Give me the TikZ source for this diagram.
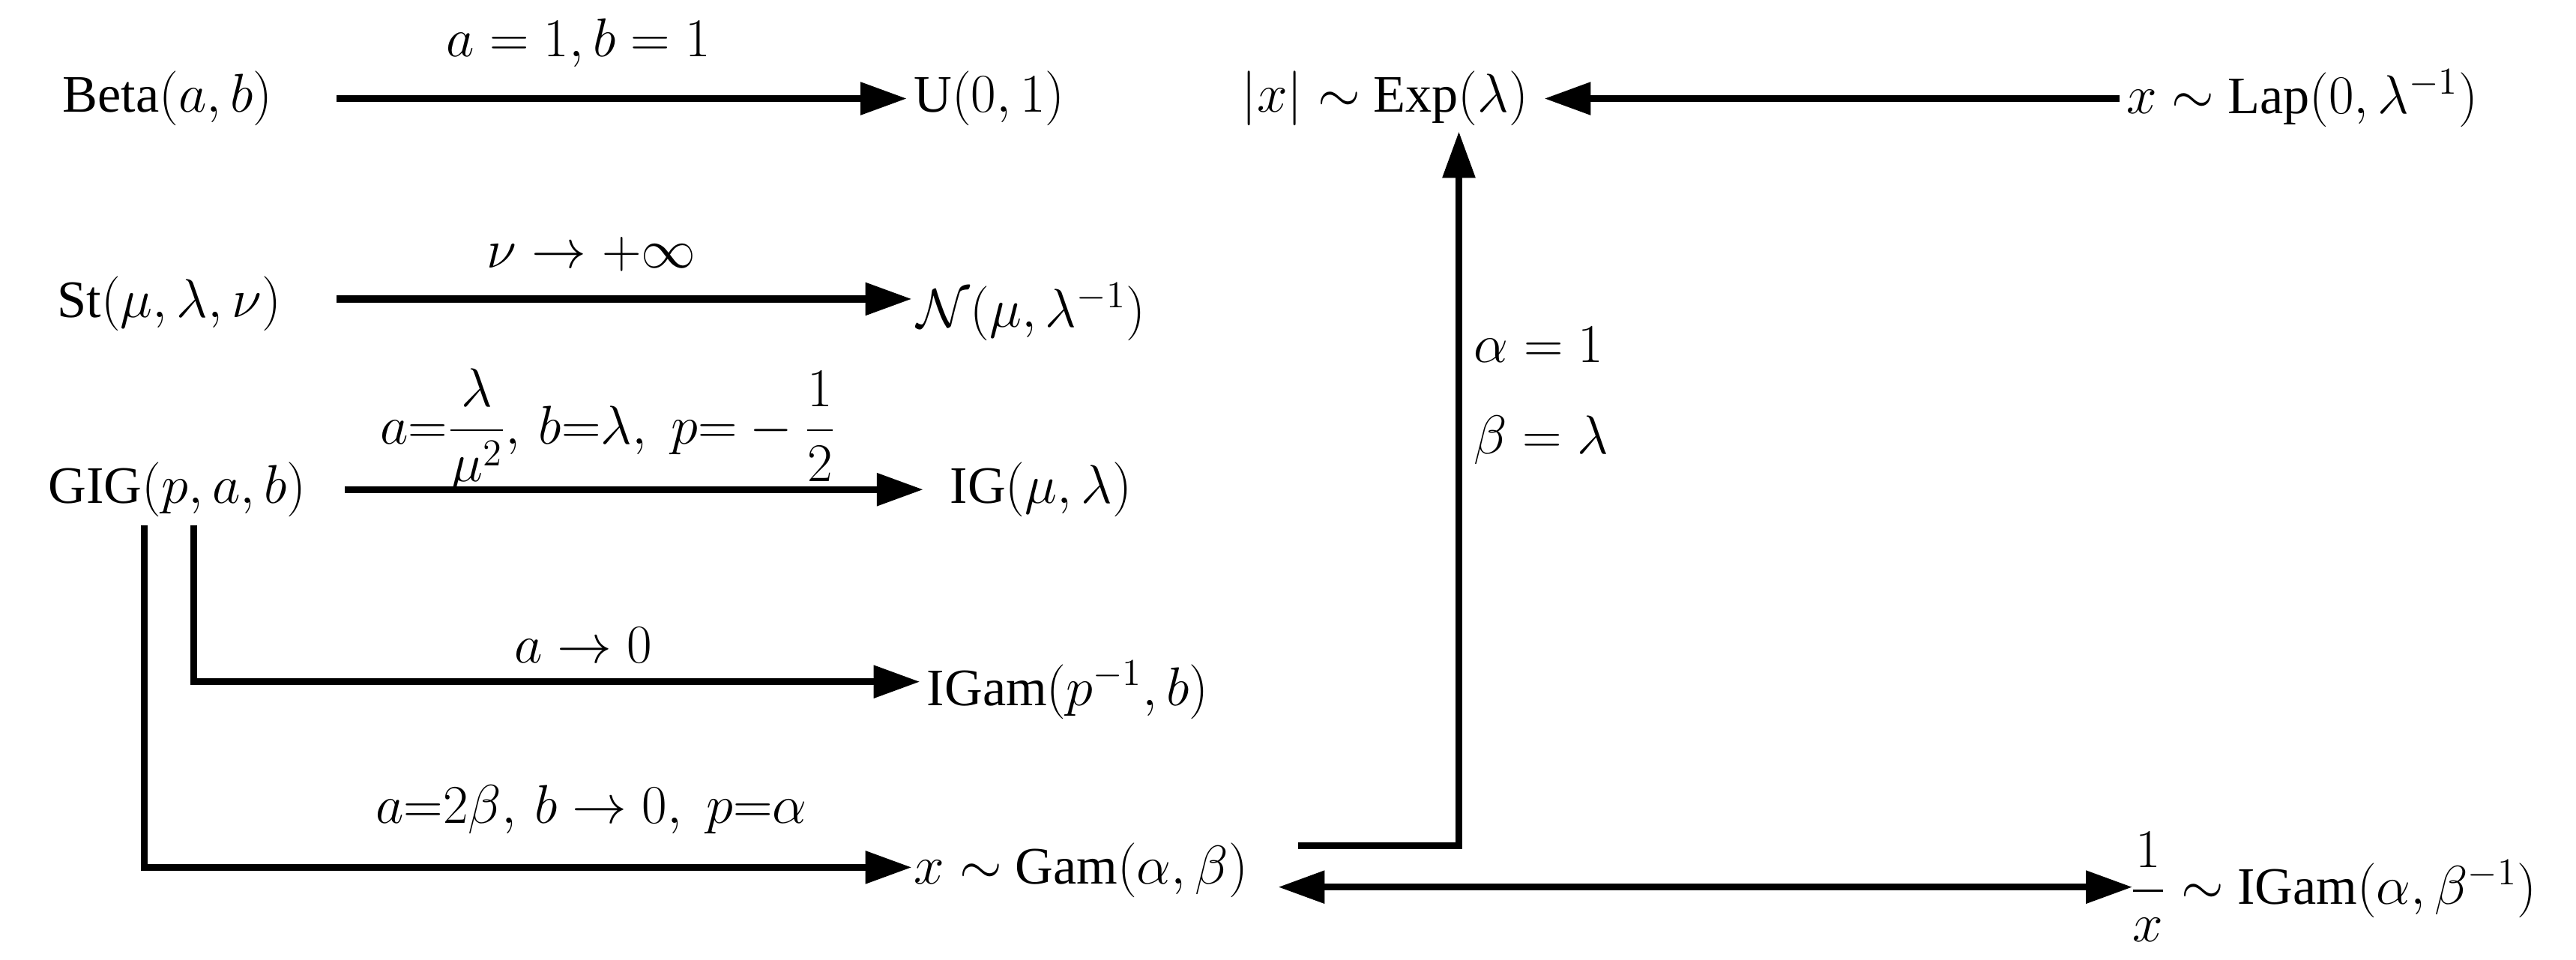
\documentclass[tikz,border=0pt]{standalone}
\usepackage{amsmath}
\usepackage{fontspec}
\setmainfont{Liberation Serif}
\usetikzlibrary{arrows.meta}
\begin{document}
\begin{tikzpicture}[x=0.02192cm,y=-0.02192cm,
  t/.style={inner sep=0pt,font=\fontsize{20}{24}\selectfont},
  ar/.style={line width=2.6pt,-{Triangle[length=0.62cm,width=0.42cm]}},
  da/.style={line width=2.6pt,{Triangle[length=0.62cm,width=0.42cm]}-{Triangle[length=0.62cm,width=0.42cm]}}]
\useasboundingbox (0,0) rectangle (1568,584);
% nodes
\node[t] (beta) at (102,60) {Beta$(a,b)$};
\node[t,anchor=west] (u) at (556,60) {U$(0,1)$};
\node[t] (exp) at (843,60) {$\left|x\right|\sim$ Exp$(\lambda)$};
\node[t,anchor=west] (lap) at (1294,60) {$x\sim$ Lap$(0,\lambda^{-1})$};
\node[t] (st) at (103,185) {St$(\mu,\lambda,\nu)$};
\node[t,anchor=west] (n) at (558,190) {$\mathcal{N}(\mu,\lambda^{-1})$};
\node[t] (gig) at (108,298) {GIG$(p,a,b)$};
\node[t,anchor=west] (ig) at (578,298) {IG$(\mu,\lambda)$};
\node[t,anchor=west] (igam) at (564,420) {IGam$(p^{-1},b)$};
\node[t,anchor=west] (gam) at (556,530) {$x\sim$ Gam$(\alpha,\beta)$};
\node[t,anchor=west] (igam2) at (1296,540) {$\dfrac{1}{x}\sim$ IGam$(\alpha,\beta^{-1})$};
% labels
\node[t] (l1) at (352,26) {$a=1,b=1$};
\node[t] (l2) at (360,155) {$\nu\rightarrow+\infty$};
\node[t] (l3) at (370,262) {$a{=}\dfrac{\lambda}{\mu^{2}},\,b{=}\lambda,\;p{=}-\dfrac{1}{2}$};
\node[t] (l4) at (355,393) {$a\rightarrow0$};
\node[t] (l5) at (360,493) {$a{=}2\beta,\,b\rightarrow0,\;p{=}\alpha$};
\node[t,anchor=west] (l6) at (897,210) {$\alpha=1$};
\node[t,anchor=west] (l7) at (897,268) {$\beta=\lambda$};
% coordinates
\coordinate (b1) at (205,60); \coordinate (b2) at (552,60);
\coordinate (e1) at (1290,60); \coordinate (e2) at (940,60);
\coordinate (s1) at (205,182); \coordinate (s2) at (555,182);
\coordinate (g1) at (210,298); \coordinate (g2) at (562,298);
\coordinate (p1) at (118,320); \coordinate (p2) at (118,415); \coordinate (p3) at (560,415);
\coordinate (q1) at (88,320); \coordinate (q2) at (88,528); \coordinate (q3) at (555,528);
\coordinate (r1) at (790,515); \coordinate (r2) at (888,515); \coordinate (r3) at (888,80);
\coordinate (d1) at (778,540); \coordinate (d2) at (1298,540);
% connectors
\draw[ar] (b1) -- (b2);
\draw[ar] (e1) -- (e2);
\draw[ar] (s1) -- (s2);
\draw[ar] (g1) -- (g2);
\draw[ar] (p1) -- (p2) -- (p3);
\draw[ar] (q1) -- (q2) -- (q3);
\draw[ar] (r1) -- (r2) -- (r3);
\draw[da] (d1) -- (d2);
\end{tikzpicture}
\end{document}
